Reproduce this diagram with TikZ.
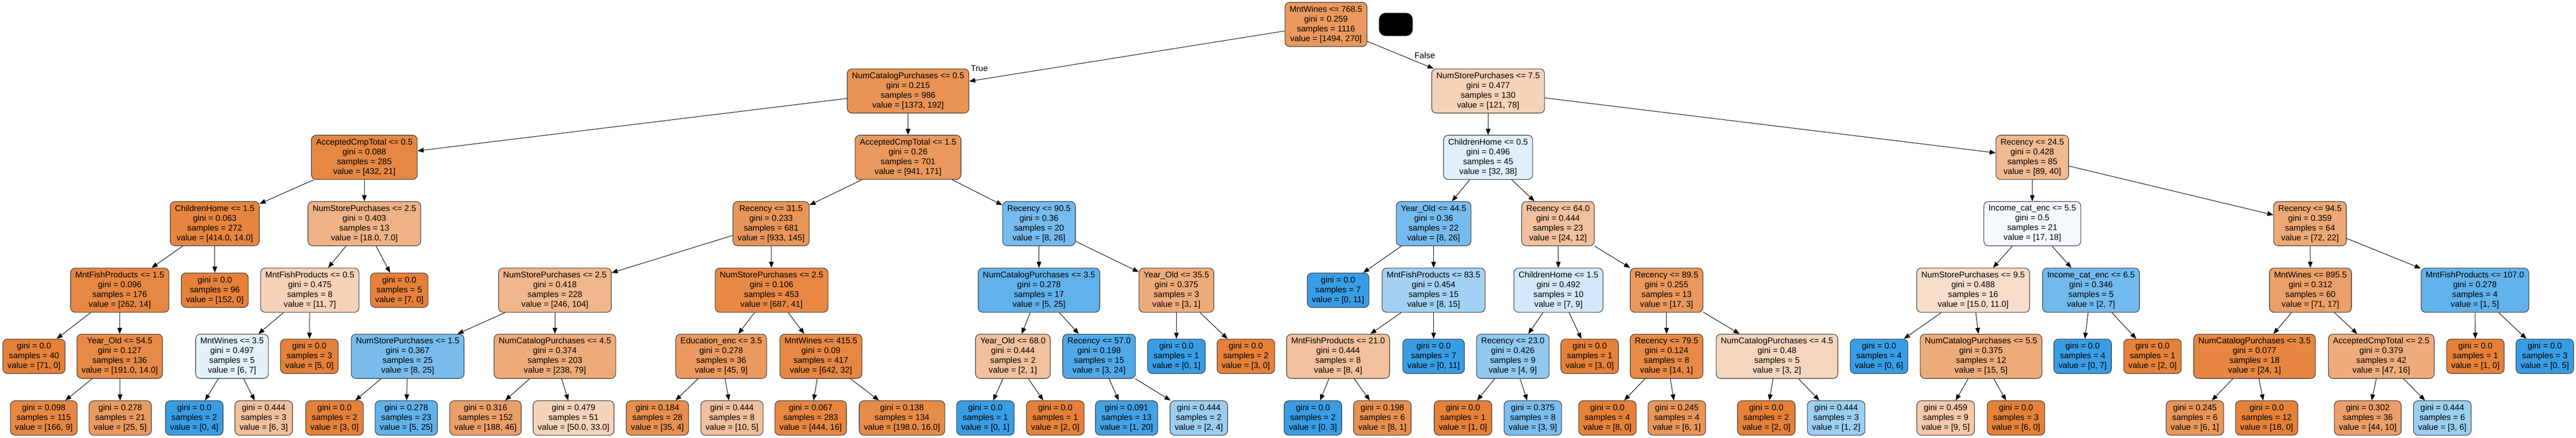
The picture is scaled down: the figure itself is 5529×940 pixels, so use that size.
\documentclass[tikz,border=0pt]{standalone}
\usepackage{fontspec}
\setmainfont{Liberation Sans}
\usetikzlibrary{arrows.meta}
\definecolor{corange}{RGB}{229,129,57}
\definecolor{cblue}{RGB}{57,157,229}
\newcommand{\splitxt}[4]{#1\\gini = #2\\samples = #3\\value = [#4]}
\newcommand{\leaftxt}[3]{gini = #1\\samples = #2\\value = [#3]}
\tikzset{
  tnode/.style={draw=black!80, line width=1.2pt, rounded corners=10pt, align=center,
    font=\fontsize{18}{21}\selectfont, inner xsep=10pt, inner ysep=0pt},
  inode/.style={tnode, minimum height=95pt},
  lnode/.style={tnode, minimum height=74pt},
  orf/.style={fill=corange!#1!white},
  blf/.style={fill=cblue!#1!white},
  tedge/.style={draw=black, line width=1.1pt, -{Triangle[length=13pt,width=10pt]}},
  elabel/.style={font=\fontsize{18}{21}\selectfont, inner sep=0pt},
  keybox/.style={fill=black, draw=black, rounded corners=14pt, minimum width=72pt, minimum height=49pt, inner sep=0pt}
}
\begin{document}
\begin{tikzpicture}[x=1pt,y=1pt]
\fill[white] (0,0) rectangle (5529,-940);
\useasboundingbox (0,0) rectangle (5529,-940);
% level 0
\node[inode,orf=82] (r) at (2846,-52.5) {\splitxt{MntWines <= 768.5}{0.259}{1116}{1494, 270}};
\node[keybox] (key) at (2996,-52.5) {};
% level 1
\node[inode,orf=86] (a) at (1949,-195.5) {\splitxt{NumCatalogPurchases <= 0.5}{0.215}{986}{1373, 192}};
\node[inode,orf=36] (b) at (3194,-195.5) {\splitxt{NumStorePurchases <= 7.5}{0.477}{130}{121, 78}};
% level 2
\node[inode,orf=95] (aa) at (782,-338) {\splitxt{AcceptedCmpTotal <= 0.5}{0.088}{285}{432, 21}};
\node[inode,orf=82] (ab) at (1949,-338) {\splitxt{AcceptedCmpTotal <= 1.5}{0.26}{701}{941, 171}};
\node[inode,blf=16] (ba) at (3194,-338) {\splitxt{ChildrenHome <= 0.5}{0.496}{45}{32, 38}};
\node[inode,orf=55] (bb) at (4362,-338) {\splitxt{Recency <= 24.5}{0.428}{85}{89, 40}};
% level 3
\node[inode,orf=97] (aaa) at (461,-480.5) {\splitxt{ChildrenHome <= 1.5}{0.063}{272}{414.0, 14.0}};
\node[inode,orf=61] (aab) at (782,-480.5) {\splitxt{NumStorePurchases <= 2.5}{0.403}{13}{18.0, 7.0}};
\node[inode,orf=84] (aba) at (1655,-480.5) {\splitxt{Recency <= 31.5}{0.233}{681}{933, 145}};
\node[inode,blf=69] (abb) at (2230,-480.5) {\splitxt{Recency <= 90.5}{0.36}{20}{8, 26}};
\node[inode,blf=69] (baa) at (3077,-480.5) {\splitxt{Year\_Old <= 44.5}{0.36}{22}{8, 26}};
\node[inode,orf=50] (bab) at (3344,-480.5) {\splitxt{Recency <= 64.0}{0.444}{23}{24, 12}};
\node[inode,blf=6] (bba) at (4362,-480.5) {\splitxt{Income\_cat\_enc <= 5.5}{0.5}{21}{17, 18}};
\node[inode,orf=69] (bbb) at (4958,-480.5) {\splitxt{Recency <= 94.5}{0.359}{64}{72, 22}};
% level 4
\node[inode,orf=95] (aaaa) at (257,-623.5) {\splitxt{MntFishProducts <= 1.5}{0.096}{176}{262, 14}};
\node[lnode,orf=100] (aaab) at (461,-623.5) {\leaftxt{0.0}{96}{152, 0}};
\node[inode,orf=36] (aaba) at (665,-623.5) {\splitxt{MntFishProducts <= 0.5}{0.475}{8}{11, 7}};
\node[lnode,orf=100] (aabb) at (857,-623.5) {\leaftxt{0.0}{5}{7, 0}};
\node[inode,orf=58] (abaa) at (1191,-623.5) {\splitxt{NumStorePurchases <= 2.5}{0.418}{228}{246, 104}};
\node[inode,orf=94] (abab) at (1656,-623.5) {\splitxt{NumStorePurchases <= 2.5}{0.106}{453}{687, 41}};
\node[inode,blf=80] (abba) at (2230,-623.5) {\splitxt{NumCatalogPurchases <= 3.5}{0.278}{17}{5, 25}};
\node[inode,orf=67] (abbb) at (2525,-623.5) {\splitxt{Year\_Old <= 35.5}{0.375}{3}{3, 1}};
\node[lnode,blf=100] (baaa) at (2872,-623.5) {\leaftxt{0.0}{7}{0, 11}};
\node[inode,blf=47] (baab) at (3077,-623.5) {\splitxt{MntFishProducts <= 83.5}{0.454}{15}{8, 15}};
\node[inode,blf=22] (baba) at (3345,-623.5) {\splitxt{ChildrenHome <= 1.5}{0.492}{10}{7, 9}};
\node[inode,orf=82] (babb) at (3577,-623.5) {\splitxt{Recency <= 89.5}{0.255}{13}{17, 3}};
\node[inode,orf=27] (bbaa) at (4235,-623.5) {\splitxt{NumStorePurchases <= 9.5}{0.488}{16}{15.0, 11.0}};
\node[inode,blf=71] (bbab) at (4488,-623.5) {\splitxt{Income\_cat\_enc <= 6.5}{0.346}{5}{2, 7}};
\node[inode,orf=76] (bbba) at (4959,-623.5) {\splitxt{MntWines <= 895.5}{0.312}{60}{71, 17}};
\node[inode,blf=80] (bbbb) at (5312,-623.5) {\splitxt{MntFishProducts <= 107.0}{0.278}{4}{1, 5}};
% level 5
\node[lnode,orf=100] (aaaaa) at (73,-765.5) {\leaftxt{0.0}{40}{71, 0}};
\node[inode,orf=93] (aaaab) at (257,-765.5) {\splitxt{Year\_Old <= 54.5}{0.127}{136}{191.0, 14.0}};
\node[inode,blf=14] (aabaa) at (498,-765.5) {\splitxt{MntWines <= 3.5}{0.497}{5}{6, 7}};
\node[lnode,orf=100] (aabab) at (664,-765.5) {\leaftxt{0.0}{3}{5, 0}};
\node[inode,blf=68] (abaaa) at (875,-765.5) {\splitxt{NumStorePurchases <= 1.5}{0.367}{25}{8, 25}};
\node[inode,orf=67] (abaab) at (1191,-765.5) {\splitxt{NumCatalogPurchases <= 4.5}{0.374}{203}{238, 79}};
\node[inode,orf=80] (ababa) at (1548,-765.5) {\splitxt{Education\_enc <= 3.5}{0.278}{36}{45, 9}};
\node[inode,orf=95] (ababb) at (1762,-765.5) {\splitxt{MntWines <= 415.5}{0.09}{417}{642, 32}};
\node[inode,orf=50] (abbaa) at (2174,-765.5) {\splitxt{Year\_Old <= 68.0}{0.444}{2}{2, 1}};
\node[inode,blf=88] (abbab) at (2359,-765.5) {\splitxt{Recency <= 57.0}{0.198}{15}{3, 24}};
\node[lnode,blf=100] (abbba) at (2525,-765.5) {\leaftxt{0.0}{1}{0, 1}};
\node[lnode,orf=100] (abbbb) at (2674,-765.5) {\leaftxt{0.0}{2}{3, 0}};
\node[inode,orf=50] (baaba) at (2872,-765.5) {\splitxt{MntFishProducts <= 21.0}{0.444}{8}{8, 4}};
\node[lnode,blf=100] (baabb) at (3077,-765.5) {\leaftxt{0.0}{7}{0, 11}};
\node[inode,blf=56] (babaa) at (3247,-765.5) {\splitxt{Recency <= 23.0}{0.426}{9}{4, 9}};
\node[lnode,orf=100] (babab) at (3412,-765.5) {\leaftxt{0.0}{1}{3, 0}};
\node[inode,orf=93] (babba) at (3577,-765.5) {\splitxt{Recency <= 79.5}{0.124}{8}{14, 1}};
\node[inode,orf=33] (babbb) at (3814,-765.5) {\splitxt{NumCatalogPurchases <= 4.5}{0.48}{5}{3, 2}};
\node[lnode,blf=100] (bbaaa) at (4033,-765.5) {\leaftxt{0.0}{4}{0, 6}};
\node[inode,orf=67] (bbaab) at (4252,-765.5) {\splitxt{NumCatalogPurchases <= 5.5}{0.375}{12}{15, 5}};
\node[lnode,blf=100] (bbaba) at (4470,-765.5) {\leaftxt{0.0}{4}{0, 7}};
\node[lnode,orf=100] (bbabb) at (4620,-765.5) {\leaftxt{0.0}{1}{2, 0}};
\node[inode,orf=96] (bbbaa) at (4839,-765.5) {\splitxt{NumCatalogPurchases <= 3.5}{0.077}{18}{24, 1}};
\node[inode,orf=66] (bbbab) at (5111,-765.5) {\splitxt{AcceptedCmpTotal <= 2.5}{0.379}{42}{47, 16}};
\node[lnode,orf=100] (bbbba) at (5313,-765.5) {\leaftxt{0.0}{1}{1, 0}};
\node[lnode,blf=100] (bbbbb) at (5462,-765.5) {\leaftxt{0.0}{3}{0, 5}};
% level 6
\node[lnode,orf=95] (aaaaba) at (94,-898) {\leaftxt{0.098}{115}{166, 9}};
\node[lnode,orf=80] (aaaabb) at (258,-898) {\leaftxt{0.278}{21}{25, 5}};
\node[lnode,blf=100] (aabaaa) at (417,-898) {\leaftxt{0.0}{2}{0, 4}};
\node[lnode,orf=50] (aabaab) at (566,-898) {\leaftxt{0.444}{3}{6, 3}};
\node[lnode,orf=100] (abaaaa) at (718,-898) {\leaftxt{0.0}{2}{3, 0}};
\node[lnode,blf=80] (abaaab) at (872,-898) {\leaftxt{0.278}{23}{5, 25}};
\node[lnode,orf=76] (abaaba) at (1042,-898) {\leaftxt{0.316}{152}{188, 46}};
\node[lnode,orf=34] (abaabb) at (1231,-898) {\leaftxt{0.479}{51}{50.0, 33.0}};
\node[lnode,orf=89] (ababaa) at (1411,-898) {\leaftxt{0.184}{28}{35, 4}};
\node[lnode,orf=50] (ababab) at (1571,-898) {\leaftxt{0.444}{8}{10, 5}};
\node[lnode,orf=96] (ababba) at (1740,-898) {\leaftxt{0.067}{283}{444, 16}};
\node[lnode,orf=92] (ababbb) at (1936,-898) {\leaftxt{0.138}{134}{198.0, 16.0}};
\node[lnode,blf=100] (abbaaa) at (2115,-898) {\leaftxt{0.0}{1}{0, 1}};
\node[lnode,orf=100] (abbaab) at (2265,-898) {\leaftxt{0.0}{1}{2, 0}};
\node[lnode,blf=95] (abbaba) at (2418,-898) {\leaftxt{0.091}{13}{1, 20}};
\node[lnode,blf=50] (abbabb) at (2573,-898) {\leaftxt{0.444}{2}{2, 4}};
\node[lnode,blf=100] (baabaa) at (2818,-898) {\leaftxt{0.0}{2}{0, 3}};
\node[lnode,orf=88] (baabab) at (2967,-898) {\leaftxt{0.198}{6}{8, 1}};
\node[lnode,orf=100] (babaaa) at (3140,-898) {\leaftxt{0.0}{1}{1, 0}};
\node[lnode,blf=67] (babaab) at (3290,-898) {\leaftxt{0.375}{8}{3, 9}};
\node[lnode,orf=100] (babbaa) at (3450,-898) {\leaftxt{0.0}{4}{8, 0}};
\node[lnode,orf=83] (babbab) at (3599,-898) {\leaftxt{0.245}{4}{6, 1}};
\node[lnode,orf=100] (babbba) at (3791,-898) {\leaftxt{0.0}{2}{2, 0}};
\node[lnode,blf=50] (babbbb) at (3941,-898) {\leaftxt{0.444}{3}{1, 2}};
\node[lnode,orf=44] (bbaaba) at (4176,-898) {\leaftxt{0.459}{9}{9, 5}};
\node[lnode,orf=100] (bbaabb) at (4327,-898) {\leaftxt{0.0}{3}{6, 0}};
\node[lnode,orf=83] (bbbaaa) at (4711,-898) {\leaftxt{0.245}{6}{6, 1}};
\node[lnode,orf=100] (bbbaab) at (4865,-898) {\leaftxt{0.0}{12}{18, 0}};
\node[lnode,orf=77] (bbbaba) at (5082,-898) {\leaftxt{0.302}{36}{44, 10}};
\node[lnode,blf=50] (bbbabb) at (5242,-898) {\leaftxt{0.444}{6}{3, 6}};
% edges
\foreach \p/\c in {r/a,r/b,a/aa,a/ab,b/ba,b/bb,
  aa/aaa,aa/aab,ab/aba,ab/abb,ba/baa,ba/bab,bb/bba,bb/bbb,
  aaa/aaaa,aaa/aaab,aab/aaba,aab/aabb,aba/abaa,aba/abab,abb/abba,abb/abbb,
  baa/baaa,baa/baab,bab/baba,bab/babb,bba/bbaa,bba/bbab,bbb/bbba,bbb/bbbb,
  aaaa/aaaaa,aaaa/aaaab,aaba/aabaa,aaba/aabab,abaa/abaaa,abaa/abaab,abab/ababa,abab/ababb,
  abba/abbaa,abba/abbab,abbb/abbba,abbb/abbbb,baab/baaba,baab/baabb,baba/babaa,baba/babab,
  babb/babba,babb/babbb,bbaa/bbaaa,bbaa/bbaab,bbab/bbaba,bbab/bbabb,bbba/bbbaa,bbba/bbbab,
  bbbb/bbbba,bbbb/bbbbb,
  aaaab/aaaaba,aaaab/aaaabb,aabaa/aabaaa,aabaa/aabaab,abaaa/abaaaa,abaaa/abaaab,
  abaab/abaaba,abaab/abaabb,ababa/ababaa,ababa/ababab,ababb/ababba,ababb/ababbb,
  abbaa/abbaaa,abbaa/abbaab,abbab/abbaba,abbab/abbabb,baaba/baabaa,baaba/baabab,
  babaa/babaaa,babaa/babaab,babba/babbaa,babba/babbab,babbb/babbba,babbb/babbbb,
  bbaab/bbaaba,bbaab/bbaabb,bbbaa/bbbaaa,bbbaa/bbbaab,bbbab/bbbaba,bbbab/bbbabb}
  {\draw[tedge] (\p) -- (\c);}
\node[elabel] (ltrue) at (2102,-147) {True};
\node[elabel] (lfalse) at (3058,-119) {False};
\end{tikzpicture}
\end{document}
